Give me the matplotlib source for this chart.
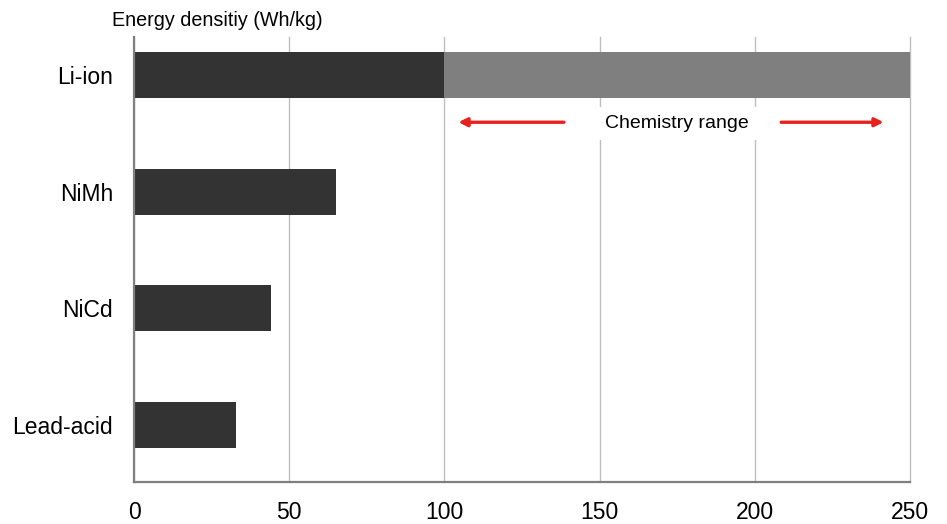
import matplotlib
matplotlib.use('Agg')
import matplotlib.pyplot as plt

plt.rcParams['font.family'] = ['Liberation Sans', 'DejaVu Sans']

# data
chemistries = ['Li-ion', 'NiMh', 'NiCd', 'Lead-acid']
energy_low = [100, 65, 44, 33]
energy_high = [250, 0, 0, 0]   # upper end of chemistry range (Li-ion only)
x_ticks = [0, 50, 100, 150, 200, 250]

fig = plt.figure(figsize=(9.47, 5.24), dpi=100)
ax = fig.add_axes([134 / 947, 1 - 482 / 524, 776 / 947, 445 / 524])

pos = list(range(len(chemistries)))
ext = [max(h - l, 0) for l, h in zip(energy_low, energy_high)]
ax.barh(pos, energy_low, height=0.394, color='#333333', zorder=3)
ax.barh(pos, ext, left=energy_low, height=0.394, color='#7f7f7f', zorder=3)

ax.set_xlim(0, 250)
ax.set_ylim(3.49, -0.326)
ax.set_xticks(x_ticks)
ax.set_yticks(pos)
ax.set_yticklabels(chemistries)
ax.tick_params(axis='both', length=0, labelsize=16.5, colors='#000000')
ax.tick_params(axis='y', pad=15)
ax.tick_params(axis='x', pad=14)

ax.grid(axis='x', color='#bfbfbf', lw=1.0, zorder=0)
for gl in ax.get_xgridlines():
    gl.set_clip_on(False)
for s in ['top', 'right']:
    ax.spines[s].set_visible(False)
for s in ['left', 'bottom']:
    ax.spines[s].set_color('#808080')
    ax.spines[s].set_linewidth(1.6)
    ax.spines[s].set_zorder(4)

# chemistry range annotation
ax.text(175, 0.415, 'Chemistry range', fontsize=14, ha='center', va='center',
        zorder=5, bbox=dict(facecolor='white', edgecolor='none', pad=6))
red = '#e8211d'
ax.annotate('', xy=(104.5, 0.405), xytext=(138.5, 0.405),
            arrowprops=dict(arrowstyle='-|>,head_length=0.5,head_width=0.25',
                            color=red, lw=2.4, shrinkA=0, shrinkB=0), zorder=5)
ax.annotate('', xy=(241.5, 0.405), xytext=(208.5, 0.405),
            arrowprops=dict(arrowstyle='-|>,head_length=0.5,head_width=0.25',
                            color=red, lw=2.4, shrinkA=0, shrinkB=0), zorder=5)

fig.text(112 / 947, 1 - 20 / 524, 'Energy densitiy (Wh/kg)', fontsize=14.2,
         ha='left', va='center')

fig.savefig('out.png', dpi=100)
